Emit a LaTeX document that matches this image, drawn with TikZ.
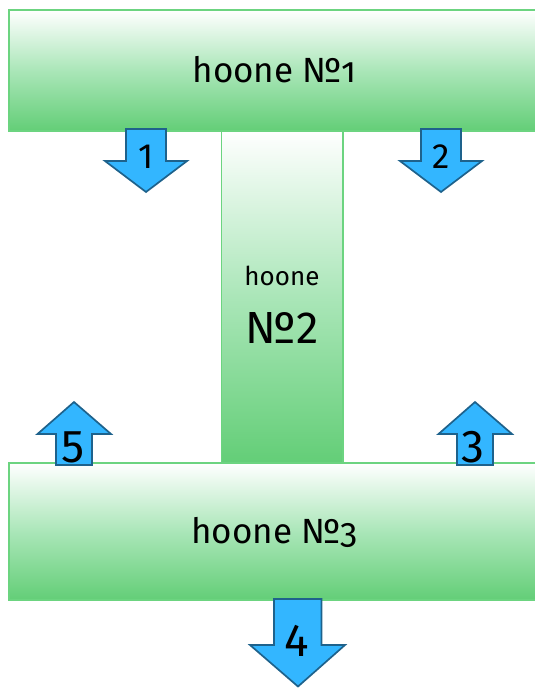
\documentclass[tikz,border=0pt]{standalone}
\usepackage{fontspec}
\setmainfont{Fira Sans}
\newfontfamily\osf[Numbers=OldStyle]{Fira Sans}
\definecolor{gbot}{RGB}{99,206,119}
\definecolor{gmid}{RGB}{170,230,184}
\definecolor{gedge}{RGB}{108,212,128}
\definecolor{afill}{RGB}{51,182,255}
\definecolor{aedge}{RGB}{30,98,140}
\tikzset{
  house/.style={draw=gedge, line width=1.2pt, top color=white, bottom color=gbot, middle color=gmid, inner sep=0pt},
  barrow/.style={fill=afill, draw=aedge, line width=1.7pt, line join=miter},
  anum/.style={inner sep=0pt, text=black},
}
\begin{document}
\begin{tikzpicture}[x=1pt,y=-1pt]
\useasboundingbox (0,0) rectangle (535,688);
\clip (0,0) rectangle (535,688);
% building 2 (middle)
\path[house] (221.5,131) rectangle (343,463);
\node[anum, anchor=base, font=\fontsize{26}{30}\selectfont] (t2a) at (282,285) {hoone};
\node[anum, anchor=base, font=\fontsize{45}{50}\selectfont] (t2b) at (282,343) {№2};
% building 1
\path[house] (9,10) rectangle (540,131);
\node[anum, font=\fontsize{35}{40}\selectfont] (t1) at (274.5,70) {hoone \osf №1};
% building 3
\path[house] (9,463) rectangle (540,600);
\node[anum, font=\fontsize{35}{40}\selectfont] (t3) at (274.5,532) {hoone \osf №3};
% arrows
\path[barrow] (126,129) -- (166,129) -- (166,161) -- (187,161) -- (146,192) -- (105,161) -- (126,161) -- cycle;
\path[barrow] (421,129) -- (461,129) -- (461,161) -- (482,161) -- (441,192) -- (400,161) -- (421,161) -- cycle;
\path[barrow] (56,465) -- (92,465) -- (92,434) -- (111,434) -- (74,402) -- (37.5,434) -- (56,434) -- cycle;
\path[barrow] (457,465) -- (493,465) -- (493,434) -- (512,434) -- (475,402) -- (438.5,434) -- (457,434) -- cycle;
\path[barrow] (274,599) -- (321.5,599) -- (321.5,645) -- (345,645) -- (298,686.5) -- (250,645) -- (274,645) -- cycle;
\node[anum, font=\fontsize{35}{38}\selectfont] (n1) at (146,157) {1};
\node[anum, font=\fontsize{35}{38}\selectfont] (n2) at (441,157) {2};
\node[anum, font=\fontsize{46}{50}\selectfont] (n5) at (73,447) {5};
\node[anum, font=\fontsize{46}{50}\selectfont] (n3) at (473,447) {3};
\node[anum, font=\fontsize{46}{50}\selectfont] (n4) at (297,641) {4};
\end{tikzpicture}
\end{document}
